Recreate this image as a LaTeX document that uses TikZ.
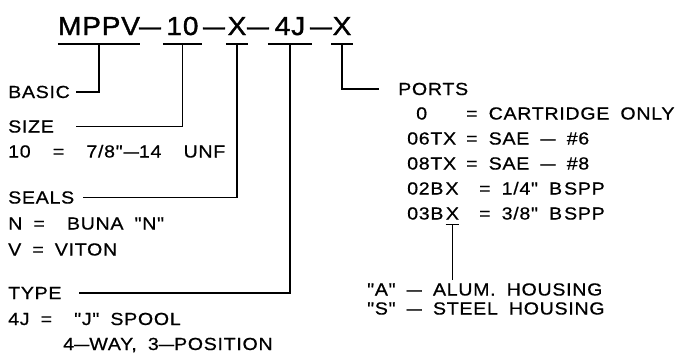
\documentclass[tikz,border=0pt]{standalone}
\usepackage{fontspec}
\setmainfont{Liberation Sans}
\newfontfamily\cadfont[FakeStretch=1.12,FakeBold=0.6,LetterSpace=4,WordSpace=1.8]{Liberation Sans}
\newfontfamily\cadtitle[FakeStretch=1.08,FakeBold=1.4,LetterSpace=3]{Liberation Sans}
\newcommand\cdash{\scalebox{1.4}[1]{–}}
\usetikzlibrary{positioning}
\tikzset{
  part/.style={inner xsep=0pt, inner ysep=0pt, anchor=base, minimum width=#1,
    font=\cadtitle\fontsize{26}{26}\selectfont},
  hyph/.style={inner sep=0pt, anchor=base, font=\cadtitle\fontsize{26}{26}\selectfont},
  lbl/.style={inner sep=0pt, anchor=base west, font=\cadfont\fontsize{17.5}{17.5}\selectfont},
  conn/.style={line width=1.5pt},
  uline/.style={line width=1.5pt}
}
\begin{document}
\begin{tikzpicture}[x=1pt, y=-1pt]
  \useasboundingbox (0,0) rectangle (680,360);

  % model code
  \node[part=78] (mppv) at (99,35) {MPPV};
  \node[hyph] (d1) at (150,35) {\cdash};
  \node[part=39] (size) at (182.5,35) {10};
  \node[hyph] (d2) at (214,35) {\cdash};
  \node[part=22] (seal) at (237,35) {X};
  \node[hyph] (d3) at (258,35) {\cdash};
  \node[part=44] (type) at (290,35) {4J};
  \node[hyph] (d4) at (321,35) {\cdash};
  \node[part=21] (port) at (342,35) {X};

  % underlines
  \foreach \p in {mppv,size,seal,type,port}
    \draw[uline] ([yshift=-9pt]\p.base west) -- ([yshift=-9pt]\p.base east);

  % left column
  \node[lbl] (lbasic) at (8,98) {BASIC};
  \node[lbl] (lsize) at (8,132.5) {SIZE};
  \node[lbl] (size1) at (8,157.5) {10\ \ =\ \ 7/8"\kern1pt\cdash14\ \ UNF};
  \node[lbl] (lseal) at (8,203.5) {SEALS};
  \node[lbl] (seal1) at (8,229.5) {N = \ BUNA "N"};
  \node[lbl] (seal2) at (8,255.5) {V = VITON};
  \node[lbl] (ltype) at (8,299) {TYPE};
  \node[lbl] (type1) at (8,325) {4J = \ "J" SPOOL};
  \node[lbl] (type2) at (63,350) {4\cdash WAY, 3\cdash POSITION};

  % right column
  \node[lbl] (lport) at (398,95) {PORTS};
  \node[lbl] (c0) at (416,119.5) {0};
  \node[lbl] (r0) at (466,119.5) {= CARTRIDGE ONLY};
  \node[lbl] (c06) at (407,144.5) {06TX};
  \node[lbl] (r06) at (466,144.5) {= SAE \cdash\ \#6};
  \node[lbl] (c08) at (407,169.5) {08TX};
  \node[lbl] (r08) at (466,169.5) {= SAE \cdash\ \#8};
  \node[lbl] (c02) at (407,194.5) {02B\kern2pt X};
  \node[lbl] (r02) at (479,194.5) {= 1/4" B\kern2pt SPP};
  \node[lbl] (c03) at (407,219.5) {03B};
  \node[lbl, base right=2pt of c03] (x03) {X};
  \node[lbl] (r03) at (479,219.5) {= 3/8" B\kern2pt SPP};
  \node[lbl] (hA) at (367,295.5) {"A" \cdash\ ALUM. HOUSING};
  \node[lbl] (hS) at (367,314.5) {"S" \cdash\ STEEL HOUSING};

  % leaders
  \draw[conn] ([yshift=-9pt]mppv.base) |- ([xshift=6pt]lbasic.east);
  \draw[conn] ([yshift=-9pt]size.base) |- ([xshift=22pt]lsize.east);
  \draw[conn] ([yshift=-9pt]seal.base) |- ([xshift=9pt]lseal.east);
  \draw[conn] ([yshift=-9pt]type.base) |- ([xshift=17pt]ltype.east);
  \draw[conn] ([yshift=-9pt]port.base) |- ([xshift=-19pt]lport.west);

  % housing option
  \draw[uline] ([yshift=-5pt]x03.base west) -- ([yshift=-5pt]x03.base east);
  \draw[conn] ([yshift=-5pt]x03.base) -- ([yshift=3pt]hA.north -| x03.base);
\end{tikzpicture}
\end{document}
